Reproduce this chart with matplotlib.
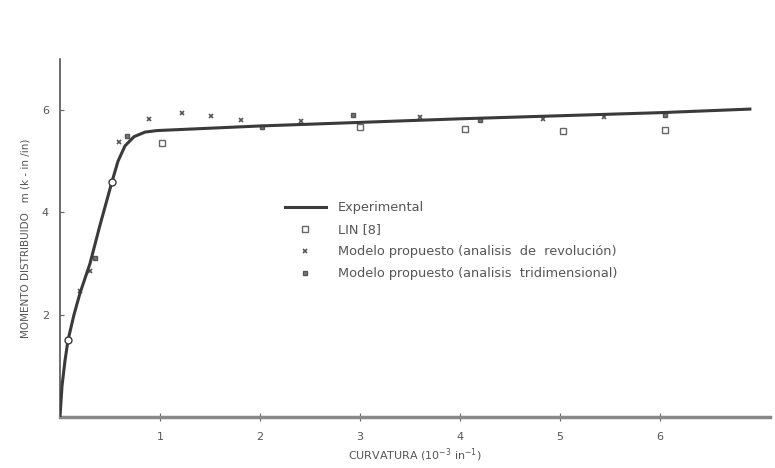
import matplotlib.pyplot as plt

# curva experimental
exp_x = [0.0, 0.02, 0.05, 0.08, 0.14, 0.2, 0.3, 0.4, 0.52, 0.58, 0.65, 0.74, 0.85, 0.97, 2.0, 3.0, 4.0, 5.0, 6.0, 6.9]
exp_y = [0.0, 0.6, 1.1, 1.5, 2.0, 2.42, 3.0, 3.75, 4.6, 5.0, 5.3, 5.48, 5.57, 5.6, 5.69, 5.76, 5.83, 5.89, 5.95, 6.02]

# puntos de ensayo sobre la curva
ens_x = [0.08, 0.52]
ens_y = [1.5, 4.6]

lin_x = [1.02, 3.0, 4.05, 5.03, 6.05]
lin_y = [5.36, 5.67, 5.63, 5.59, 5.61]

rev_x = [0.2, 0.3, 0.59, 0.89, 1.22, 1.51, 1.81, 2.41, 3.6, 4.83, 5.44]
rev_y = [2.47, 2.85, 5.38, 5.83, 5.94, 5.88, 5.8, 5.79, 5.86, 5.82, 5.86]

tri_x = [0.35, 0.67, 2.02, 2.93, 4.2, 6.05]
tri_y = [3.1, 5.5, 5.67, 5.9, 5.8, 5.9]

xticks = [1, 2, 3, 4, 5, 6]
yticks = [2, 4, 6]

fig = plt.figure(figsize=(7.75, 4.68), dpi=100)
ax = fig.add_axes([0.0774, 0.109, 0.916, 0.765])

ink = '#3a3a3a'
txt = '#555555'

ax.plot(exp_x, exp_y, color=ink, lw=2.2, label='Experimental', zorder=3)
ax.plot(ens_x, ens_y, 'o', ms=5, mfc='white', mec=ink, mew=1.0, zorder=4)
ax.plot(lin_x, lin_y, 's', ms=4, mfc='none', mec='#666666', mew=1.0, ls='none', label='LIN [8]')
ax.plot(rev_x, rev_y, 'x', ms=3.5, mec='#555555', mew=1.2, ls='none',
        label='Modelo propuesto (analisis  de  revolución)')
ax.plot(tri_x, tri_y, 's', ms=3.5, mfc='#777777', mec='#555555', ls='none',
        label='Modelo propuesto (analisis  tridimensional)')

ax.set_xlim(0, 7.1)
ax.set_ylim(0, 7.0)
ax.set_xticks(xticks)
ax.set_yticks(yticks)
ax.tick_params(axis='x', direction='inout', length=6, colors='#666666', labelcolor=txt, labelsize=8, pad=8)
ax.tick_params(axis='y', direction='in', length=3, colors='#666666', labelcolor=txt, labelsize=8, pad=8)

for s in ['top', 'right']:
    ax.spines[s].set_visible(False)
ax.spines['left'].set_color('#555555')
ax.spines['left'].set_linewidth(1.2)
ax.spines['bottom'].set_color('#888888')
ax.spines['bottom'].set_linewidth(2.5)

ax.set_xlabel('CURVATURA (10$^{-3}$ in$^{-1}$)', fontsize=8, color=txt, labelpad=3)
ax.set_ylabel('MOMENTO DISTRIBUIDO   m (k - in /in)', fontsize=7.5, color=txt, labelpad=8)

leg = ax.legend(loc='upper left', bbox_to_anchor=(0.3, 0.635), frameon=False,
                fontsize=9.3, handlelength=3.2, labelspacing=0.7, handletextpad=0.9)
for t in leg.get_texts():
    t.set_color(txt)

fig.savefig('out.png', dpi=100)
